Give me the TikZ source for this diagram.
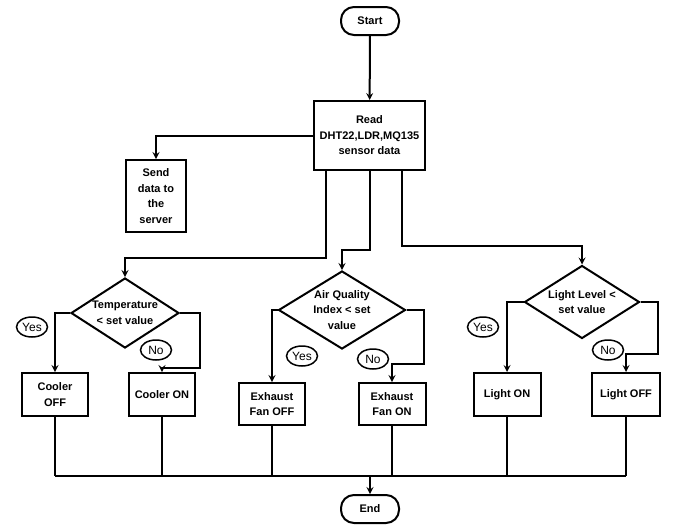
\documentclass[tikz,border=0pt]{standalone}
\usepackage{fontspec}
\setmainfont{Liberation Sans}
\usetikzlibrary{shapes.geometric}

\begin{document}
\begin{tikzpicture}[x=1pt,y=-1pt,line width=2pt,
    every node/.style={font=\fontsize{11}{15.5}\selectfont\bfseries,align=center,inner sep=1pt},
    term/.style={draw,rounded corners=13pt,minimum width=58pt,minimum height=28pt},
    proc/.style={draw,minimum width=66pt,minimum height=43pt},
    cond/.style={draw,diamond,inner sep=0pt},
    tag/.style={draw,ellipse,line width=1.5pt,font=\fontsize{12}{13}\selectfont,inner sep=0pt,minimum width=31pt,minimum height=20pt},
    arrow/.style={-stealth}]
  \useasboundingbox (0,0) rectangle (673,531);

  \node[term] (start) at (370,21) {Start};
  \node[proc,minimum width=111pt,minimum height=69pt] (read) at (369.5,135.5) {Read\\DHT22,LDR,MQ135\\sensor data};
  \node[proc,minimum width=60pt,minimum height=72pt] (send) at (156,196) {Send\\data to\\the\\server};

  \node[cond,aspect=1.54,minimum width=108pt,minimum height=70pt] (temp) at (125,313) {Temperature\\< set value};
  \node[cond,aspect=1.63,minimum width=127pt,minimum height=78pt] (air) at (342,310) {Air Quality\\Index < set\\value};
  \node[cond,aspect=1.58,minimum width=115pt,minimum height=73pt] (light) at (582,302) {Light Level <\\set value};

  \node[proc] (cooloff) at (55,394.5) {Cooler\\OFF};
  \node[proc] (coolon) at (162,394.5) {Cooler ON};
  \node[proc,minimum height=42pt] (fanoff) at (272,404) {Exhaust\\Fan OFF};
  \node[proc,minimum width=67pt,minimum height=42pt] (fanon) at (392,404) {Exhaust\\Fan ON};
  \node[proc,minimum width=67pt] (lighton) at (507,394.5) {Light ON};
  \node[proc,minimum width=68pt] (lightoff) at (626,394.5) {Light OFF};
  \node[term] (end) at (370,509) {End};

  \node[tag] (yes1) at (32,327) {Yes};
  \node[tag] (no1) at (156,350) {No};
  \node[tag] (yes2) at (302,356) {Yes};
  \node[tag] (no2) at (373,359) {No};
  \node[tag] (yes3) at (483,327) {Yes};
  \node[tag] (no3) at (608,350) {No};

  \coordinate (t0) at (326,258);
  \coordinate (a0) at (370,250);
  \coordinate (l0) at (402,246);
  \coordinate (t1) at (200,368);
  \coordinate (a1) at (424,364);
  \coordinate (l1) at (658,354);
  \coordinate (bus) at (370,476);

  \draw[arrow] (start) -- (read);
  \draw[arrow] (read.west) -| (send.north);
  \draw[arrow] (read.south -| t0) -- (t0) -| (temp.north);
  \draw[arrow] (read.south -| a0) -- (a0) -| (air.north);
  \draw[arrow] (read.south -| l0) -- (l0) -| (light.north);

  \draw[arrow] (temp.west) -| (cooloff.north);
  \draw[arrow] (temp.east) -| (t1) -| (coolon.north);
  \draw[arrow] (air.west) -| (fanoff.north);
  \draw[arrow] (air.east) -| (a1) -| (fanon.north);
  \draw[arrow] (light.west) -| (lighton.north);
  \draw[arrow] (light.east) -| (l1) -| (lightoff.north);

  \foreach \n in {cooloff,coolon,fanoff,fanon,lighton,lightoff}
    \draw (\n.south) -- (\n.south |- bus);
  \draw (cooloff.south |- bus) -- (lightoff.south |- bus);
  \draw[arrow] (bus) -- (end);
\end{tikzpicture}
\end{document}
